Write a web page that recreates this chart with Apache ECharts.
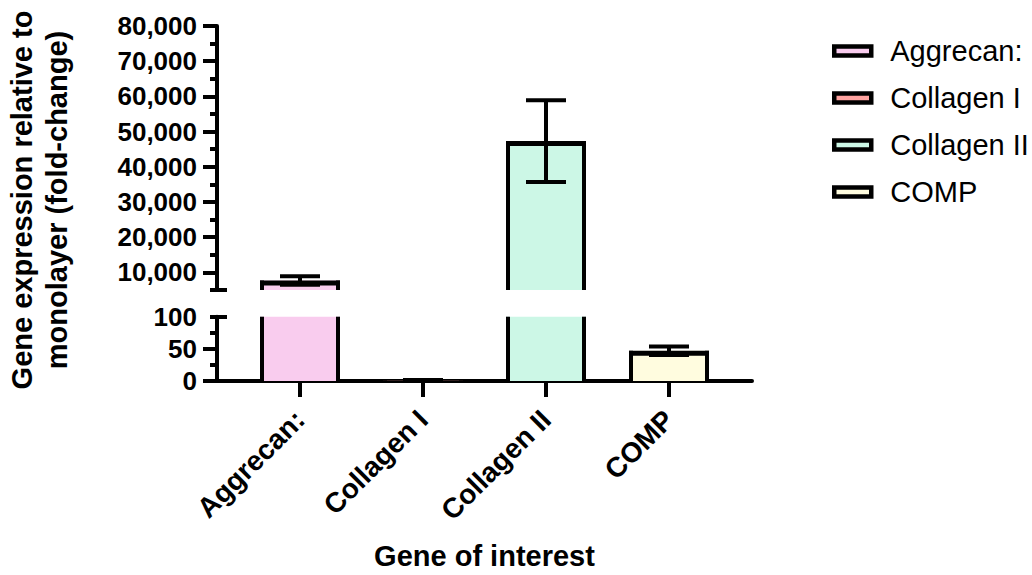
<!DOCTYPE html>
<html>
<head>
<meta charset="utf-8">
<script src="https://cdn.jsdelivr.net/npm/echarts@6/dist/echarts.min.js"></script>
<style>
  html, body { margin: 0; padding: 0; background: #fff; }
  #chart { width: 1032px; height: 575px; }
</style>
</head>
<body>
<div id="chart"></div>
<script>
// Fold-change of cartilage marker genes, mean with error bars
const categories = ['Aggrecan:', 'Collagen I', 'Collagen II', 'COMP'];
const meanValues = [7700, 1.0, 47300, 47];
const errorValues = [1200, 0.6, 11600, 6.6];
const barColors = ['#F9CCEE', '#FFA3A0', '#CCF7E6', '#FFFCDF'];

// Broken y axis: upper segment and lower segment
const upperRange = [5000, 80000];
const lowerRange = [0, 100];
const upperMajorTicks = [10000, 20000, 30000, 40000, 50000, 60000, 70000, 80000];
const upperMinorTicks = [5000, 15000, 25000, 35000, 45000, 55000, 65000, 75000];
const lowerMajorTicks = [0, 50];
const lowerLabels = [0, 50, 100];
const lowerMinorTicks = [25, 75, 100];

const FONT = '"Liberation Sans", Arial, Helvetica, sans-serif';
const LINE = 4;           // stroke width of axes, outlines, error bars
const X_TICK_LEN = 16;
const BAR_FRACTION = 80 / 123;
const CAP_FRACTION = 40 / 123;
const X_MIN = -83 / 123;
const X_MAX = 3 + 83 / 123;

const chart = echarts.init(document.getElementById('chart'), null, { renderer: 'svg' });

// Bar piece for one axis segment; outline is drawn inside the bar edges,
// the side that touches the axis break is left open.
function barRenderer(range) {
  return function (params, api) {
    const idx = api.value(0);
    const v = api.value(1);
    if (v <= range[0]) return null;
    const top = Math.min(v, range[1]);
    const unit = api.size([1, 0])[0];
    const w = unit * BAR_FRACTION;
    const pTop = api.coord([idx, top]);
    const yBase = api.coord([idx, range[0]])[1];
    const x0 = pTop[0] - w / 2;
    const h = yBase - pTop[1];
    const color = api.visual('color');
    const children = [
      { type: 'rect', shape: { x: x0, y: pTop[1], width: w, height: h }, style: { fill: color } },
      { type: 'rect', shape: { x: x0, y: pTop[1], width: LINE, height: h }, style: { fill: '#000' } },
      { type: 'rect', shape: { x: x0 + w - LINE, y: pTop[1], width: LINE, height: h }, style: { fill: '#000' } }
    ];
    if (v <= range[1]) {
      children.push({ type: 'rect', shape: { x: x0, y: pTop[1], width: w, height: Math.min(LINE + 1, h) }, style: { fill: '#000' } });
    }
    return { type: 'group', children: children };
  };
}

// Error bar; in the lower segment the category tick below the axis is added too
function errorRenderer(range, withTick) {
  return function (params, api) {
    const idx = api.value(0);
    const m = api.value(1);
    const e = api.value(2);
    const children = [];
    const style = { stroke: '#000', lineWidth: LINE, fill: null };
    if (withTick) {
      const base = api.coord([idx, range[0]]);
      children.push({ type: 'line', shape: { x1: base[0], y1: base[1], x2: base[0], y2: base[1] + X_TICK_LEN }, style: style });
    }
    if (m >= range[0] && m <= range[1]) {
      const half = api.size([1, 0])[0] * CAP_FRACTION / 2;
      const hi = api.coord([idx, m + e]);
      const lo = api.coord([idx, m - e]);
      children.push(
        { type: 'line', shape: { x1: hi[0], y1: hi[1], x2: lo[0], y2: lo[1] }, style: style },
        { type: 'line', shape: { x1: hi[0] - half, y1: hi[1], x2: hi[0] + half, y2: hi[1] }, style: style },
        { type: 'line', shape: { x1: lo[0] - half, y1: lo[1], x2: lo[0] + half, y2: lo[1] }, style: style }
      );
    }
    return children.length ? { type: 'group', children: children } : null;
  };
}

const barSeries = [];
categories.forEach(function (name, i) {
  [[0, upperRange], [1, lowerRange]].forEach(function (seg) {
    barSeries.push({
      type: 'custom',
      name: name,
      xAxisIndex: seg[0],
      yAxisIndex: seg[0] === 0 ? 0 : 3,
      itemStyle: { color: barColors[i] },
      encode: { x: 0, y: 1 },
      renderItem: barRenderer(seg[1]),
      data: [[i, meanValues[i]]],
      z: 2
    });
  });
});

const errorData = categories.map(function (c, i) { return [i, meanValues[i], errorValues[i]]; });
const extraSeries = [
  { type: 'custom', name: 'err-upper', xAxisIndex: 0, yAxisIndex: 0, encode: { x: 0, y: 1 },
    renderItem: errorRenderer(upperRange, false), data: errorData, z: 4 },
  { type: 'custom', name: 'err-lower', xAxisIndex: 1, yAxisIndex: 3, encode: { x: 0, y: 1 }, clip: false,
    renderItem: errorRenderer(lowerRange, true), data: errorData, z: 5 }
];

const labelFont = { color: '#000', fontFamily: FONT, fontWeight: 'bold', fontSize: 26 };
const blackLine = { color: '#000', width: LINE };

function yAxisSet(gridIndex, range, majors, labels, minors, inside) {
  const base = {
    type: 'value', gridIndex: gridIndex, min: range[0], max: range[1],
    position: 'left', offset: 0, splitLine: { show: false }
  };
  return [
    Object.assign({}, base, {
      axisLine: { show: true, onZero: false, lineStyle: blackLine },
      axisTick: { show: true, length: 14, lineStyle: blackLine, customValues: majors },
      axisLabel: Object.assign({
        customValues: labels, margin: 20,
        formatter: function (v) { return Number(v).toLocaleString('en-US'); }
      }, labelFont)
    }),
    Object.assign({}, base, {
      axisLine: { show: false, onZero: false }, axisLabel: { show: false },
      axisTick: { show: true, length: 7, lineStyle: blackLine, customValues: minors }
    }),
    Object.assign({}, base, {
      axisLine: { show: false, onZero: false }, axisLabel: { show: false },
      axisTick: { show: true, inside: true, length: 10, lineStyle: blackLine, customValues: inside }
    })
  ];
}

const option = {
  backgroundColor: '#fff',
  animation: false,
  grid: [
    { left: 217, width: 535, top: 26, height: 264, outerBoundsMode: 'none', containLabel: false },
    { left: 217, width: 535, top: 316.7, height: 64.3, outerBoundsMode: 'none', containLabel: false },
    // category band layer: one 123px band per gene, centred on the bars
    { left: 238.5, width: 492, top: 316.7, height: 64.3, outerBoundsMode: 'none', containLabel: false }
  ],
  xAxis: [
    { type: 'value', gridIndex: 0, min: X_MIN, max: X_MAX, show: false },
    {
      type: 'value', gridIndex: 1, min: X_MIN, max: X_MAX,
      splitLine: { show: false },
      axisLine: { show: true, onZero: false, lineStyle: blackLine },
      axisTick: { show: false },
      axisLabel: { show: false }
    },
    {
      type: 'category', gridIndex: 2, data: categories,
      axisLine: { show: false, onZero: false },
      axisTick: { show: true, alignWithLabel: true, interval: 0, length: X_TICK_LEN, lineStyle: blackLine },
      axisLabel: Object.assign({}, labelFont, { interval: 0, rotate: 45, margin: 34, fontSize: 28 }),
      name: 'Gene of interest',
      nameLocation: 'middle',
      nameGap: 160,
      nameTextStyle: { color: '#000', fontFamily: FONT, fontWeight: 'bold', fontSize: 29 }
    }
  ],
  yAxis: [].concat(
    yAxisSet(0, upperRange, upperMajorTicks, upperMajorTicks, upperMinorTicks, [5000]),
    yAxisSet(1, lowerRange, lowerMajorTicks, lowerLabels, lowerMinorTicks, [100]),
    [{ type: 'value', gridIndex: 2, min: lowerRange[0], max: lowerRange[1], show: false }]
  ),
  legend: {
    orient: 'vertical',
    left: 832,
    top: 35,
    padding: 0,
    itemGap: 15,
    itemWidth: 37,
    itemHeight: 9,
    icon: 'rect',
    selectedMode: false,
    textStyle: { color: '#000', fontFamily: FONT, fontSize: 29, lineHeight: 32, padding: [0, 0, 0, 14] },
    data: categories.map(function (c, i) {
      return { name: c, itemStyle: { color: barColors[i], borderColor: '#000', borderWidth: 4.5 } };
    })
  },
  graphic: [{
    type: 'text',
    x: 39,
    y: 200,
    rotation: Math.PI / 2,
    style: {
      text: 'Gene expression relative to\nmonolayer (fold-change)',
      fill: '#000',
      font: 'bold 29px ' + FONT,
      lineHeight: 35,
      textAlign: 'center',
      textVerticalAlign: 'middle'
    }
  }],
  series: barSeries.concat(extraSeries)
};

chart.setOption(option);
</script>
</body>
</html>
